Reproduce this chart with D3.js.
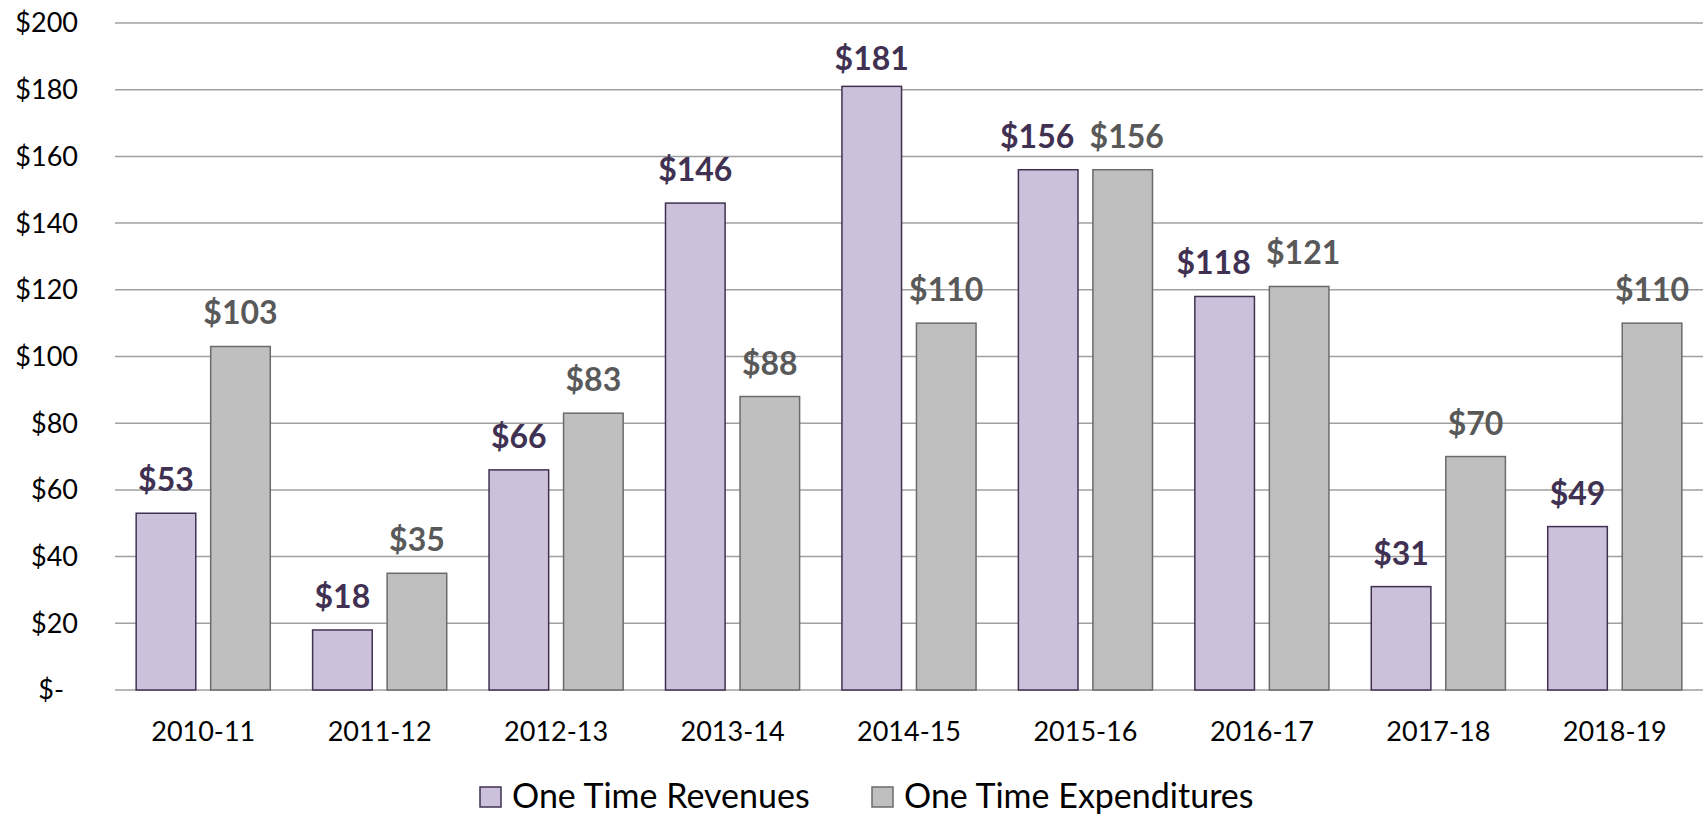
<!DOCTYPE html>
<html>
<head>
<meta charset="utf-8">
<script src="https://cdn.jsdelivr.net/npm/d3@7"></script>
<style>
  body { margin: 0; background: #fff; }
  text { font-family: Lato, "Open Sans", sans-serif; }
</style>
</head>
<body>
<script>
'use strict';

const w = 1703;
const h = 815;

// chart data
const years = ['2010-11', '2011-12', '2012-13', '2013-14', '2014-15', '2015-16', '2016-17', '2017-18', '2018-19'];
const revenues = [53, 18, 66, 146, 181, 156, 118, 31, 49];
const expenditures = [103, 35, 83, 88, 110, 156, 121, 70, 110];
const seriesNames = ['One Time Revenues', 'One Time Expenditures'];
const yTicks = [0, 20, 40, 60, 80, 100, 120, 140, 160, 180, 200];

const fills = ['#ccc1da', '#bfbfbf'];
const strokes = ['#403152', '#6b6b6b'];
const labelColors = ['#403152', '#595959'];

const svg = d3.select('body').append('svg').attr('width', w).attr('height', h);

const x0 = d3.scaleBand().domain(years).range([115, 1703]);
const x1 = d3.scaleBand().domain([0, 1]).range([0, x0.bandwidth()]).paddingInner(0.2).paddingOuter(0.284);
const y = d3.scaleLinear().domain([0, 200]).range([690, 23]);

// gridlines
svg.append('g')
  .selectAll('line')
  .data(yTicks)
  .enter()
  .append('line')
  .attr('x1', 115)
  .attr('x2', 1703)
  .attr('y1', d => y(d))
  .attr('y2', d => y(d))
  .attr('stroke', '#a0a0a0')
  .attr('stroke-width', 1.5);

// y tick labels
svg.append('g')
  .selectAll('text')
  .data(yTicks)
  .enter()
  .append('text')
  .text(d => d === 0 ? '$-' : '$' + d)
  .attr('x', d => d === 0 ? 64 : 78)
  .attr('y', d => y(d))
  .attr('dy', '0.35em')
  .attr('text-anchor', 'end')
  .attr('font-size', 27)
  .attr('fill', '#000');

// x labels
svg.append('g')
  .selectAll('text')
  .data(years)
  .enter()
  .append('text')
  .text(d => d)
  .attr('x', d => x0(d) + x0.bandwidth() / 2)
  .attr('y', 732)
  .attr('dy', '0.35em')
  .attr('text-anchor', 'middle')
  .attr('font-size', 27)
  .attr('fill', '#000');

const rows = years.map((yr, i) => ({ yr, vals: [revenues[i], expenditures[i]] }));

const groups = svg.append('g')
  .selectAll('g')
  .data(rows)
  .enter()
  .append('g')
  .attr('transform', d => `translate(${x0(d.yr)},0)`);

groups.selectAll('rect')
  .data(d => d.vals.map((v, s) => ({ v, s })))
  .enter()
  .append('rect')
  .attr('x', d => x1(d.s))
  .attr('y', d => y(d.v))
  .attr('width', x1.bandwidth())
  .attr('height', d => y(0) - y(d.v))
  .attr('fill', d => fills[d.s])
  .attr('stroke', d => strokes[d.s])
  .attr('stroke-width', 1.5);

// value labels; when the pair sits at nearly the same height, push them apart
groups.selectAll('text')
  .data(d => d.vals.map((v, s) => ({ v, s, close: Math.abs(y(d.vals[0]) - y(d.vals[1])) < 30 })))
  .enter()
  .append('text')
  .text(d => '$' + d.v)
  .attr('x', d => x1(d.s) + x1.bandwidth() / 2 + (d.close ? (d.s === 0 ? -11 : 4) : 0))
  .attr('y', d => Math.max(y(d.v) - 22, 70))
  .attr('text-anchor', 'middle')
  .attr('font-size', 32)
  .attr('font-weight', 'bold')
  .attr('fill', d => labelColors[d.s]);

// legend
const legendX = [480, 872];
const legend = svg.append('g')
  .selectAll('g')
  .data(seriesNames)
  .enter()
  .append('g')
  .attr('transform', (d, i) => `translate(${legendX[i]},787)`);

legend.append('rect')
  .attr('width', 21)
  .attr('height', 20)
  .attr('fill', (d, i) => fills[i])
  .attr('stroke', (d, i) => strokes[i])
  .attr('stroke-width', 1.5);

legend.append('text')
  .text(d => d)
  .attr('x', 32)
  .attr('y', 21)
  .attr('font-size', 34)
  .attr('fill', '#000');
</script>
</body>
</html>
